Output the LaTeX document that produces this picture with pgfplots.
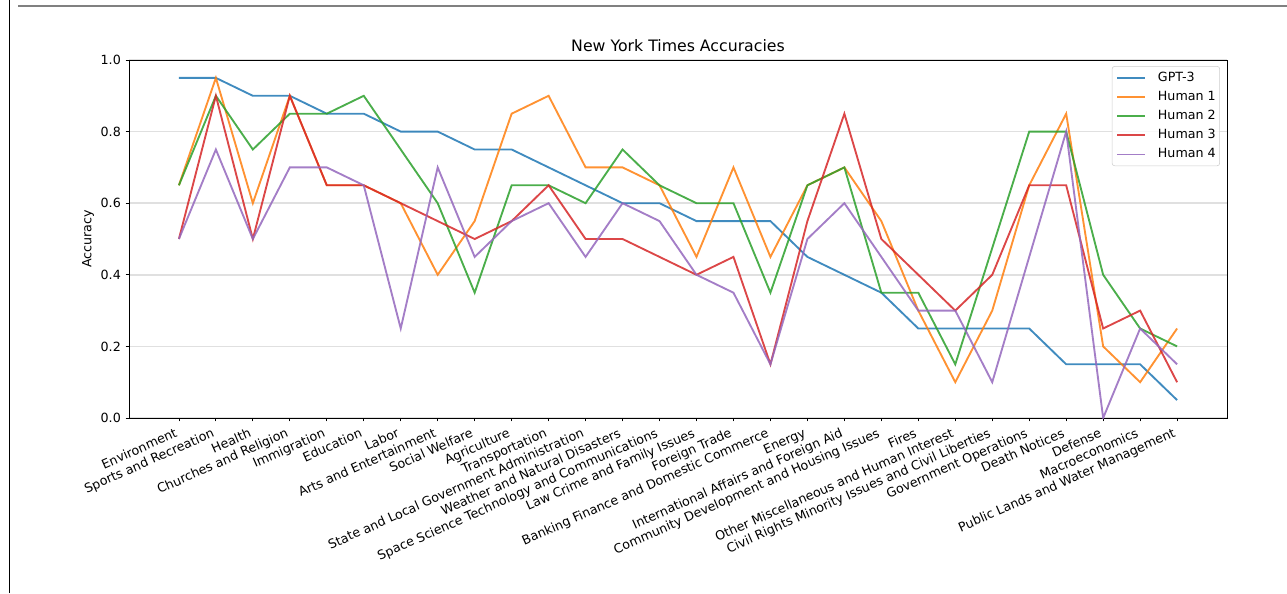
\documentclass[border=0pt]{standalone}
\usepackage{fontspec}
\setmainfont{DejaVu Sans}
\usepackage{pgfplots}
\pgfplotsset{compat=1.18}
\definecolor{cA}{HTML}{1F77B4}
\definecolor{cB}{HTML}{FF7F0E}
\definecolor{cC}{HTML}{2CA02C}
\definecolor{cD}{HTML}{D62728}
\definecolor{cE}{HTML}{9467BD}
\definecolor{pagegray}{HTML}{808080}
\newcommand{\tickfont}{\fontsize{9.5}{11}\selectfont}
\begin{document}
\begin{tikzpicture}
\useasboundingbox (0,0) rectangle (965.25pt,444.75pt);
\draw[black, line width=0.8pt] (7.1pt,0) -- (7.1pt,444.75pt);
\draw[pagegray, line width=1.5pt] (13.5pt,440.25pt) -- (965.25pt,440.25pt);
\begin{axis}[
  at={(96.75pt,131.25pt)}, anchor=south west,
  scale only axis, width=823.5pt, height=268.5pt,
  xmin=-1.35, xmax=28.35, ymin=0, ymax=1,
  xtick={0,...,27},
  xticklabels={Environment,Sports and Recreation,Health,Churches and Religion,Immigration,Education,Labor,Arts and Entertainment,Social Welfare,Agriculture,Transportation,State and Local Government Administration,Weather and Natural Disasters,Space Science Technology and Communications,Law Crime and Family Issues,Foreign Trade,Banking Finance and Domestic Commerce,Energy,International Affairs and Foreign Aid,Community Development and Housing Issues,Fires,Other Miscellaneous and Human Interest,Civil Rights Minority Issues and Civil Liberties,Government Operations,Death Notices,Defense,Macroeconomics,Public Lands and Water Management},
  xticklabel style={font=\tickfont, xshift=-3pt, yshift=-3pt, rotate=24, anchor=north east, inner sep=1pt},
  ytick={0,0.2,0.4,0.6,0.8,1.0},
  yticklabel style={font=\tickfont, /pgf/number format/fixed, /pgf/number format/precision=1, /pgf/number format/fixed zerofill, /pgf/number format/assume math mode=true},
  tick pos=left, tick align=outside, major tick length=2.6pt,
  tick style={black, line width=0.6pt},
  axis line style={black, line width=0.6pt},
  ymajorgrids, grid style={draw=black!12, line width=1.1pt},
  title={New York Times Accuracies},
  title style={font=\fontsize{11.8}{14}\selectfont, at={(axis description cs:0.5,1)}, anchor=south, yshift=-3pt},
  ylabel={Accuracy},
  ylabel style={font=\tickfont, at={(axis description cs:-0.0373,0.5)}, anchor=center},
  legend cell align=left,
  legend style={at={(axis description cs:0.9936,0.983)}, anchor=north east, font=\tickfont,
    draw=black!20, rounded corners=2pt, fill=white, fill opacity=0.8, text opacity=1,
    nodes={inner sep=0pt, text height=7pt, text depth=2pt},
    row sep=5.4pt, inner xsep=3pt, inner ysep=4pt},
  legend image code/.code={\draw[#1] (0pt,0pt) -- (21pt,0pt); \path (30pt,0pt);},
  every axis plot/.append style={line width=1.4pt, opacity=0.85, line join=miter},
]
\addplot[cA] coordinates {(0,0.95) (1,0.95) (2,0.90) (3,0.90) (4,0.85) (5,0.85) (6,0.80) (7,0.80) (8,0.75) (9,0.75) (10,0.70) (11,0.65) (12,0.60) (13,0.60) (14,0.55) (15,0.55) (16,0.55) (17,0.45) (18,0.40) (19,0.35) (20,0.25) (21,0.25) (22,0.25) (23,0.25) (24,0.15) (25,0.15) (26,0.15) (27,0.05)};
\addlegendentry{GPT-3}
\addplot[cB] coordinates {(0,0.65) (1,0.95) (2,0.60) (3,0.90) (4,0.65) (5,0.65) (6,0.60) (7,0.40) (8,0.55) (9,0.85) (10,0.90) (11,0.70) (12,0.70) (13,0.65) (14,0.45) (15,0.70) (16,0.45) (17,0.65) (18,0.70) (19,0.55) (20,0.30) (21,0.10) (22,0.30) (23,0.65) (24,0.85) (25,0.20) (26,0.10) (27,0.25)};
\addlegendentry{Human 1}
\addplot[cC] coordinates {(0,0.65) (1,0.90) (2,0.75) (3,0.85) (4,0.85) (5,0.90) (6,0.75) (7,0.60) (8,0.35) (9,0.65) (10,0.65) (11,0.60) (12,0.75) (13,0.65) (14,0.60) (15,0.60) (16,0.35) (17,0.65) (18,0.70) (19,0.35) (20,0.35) (21,0.15) (22,0.475) (23,0.80) (24,0.80) (25,0.40) (26,0.25) (27,0.20)};
\addlegendentry{Human 2}
\addplot[cD] coordinates {(0,0.50) (1,0.90) (2,0.50) (3,0.90) (4,0.65) (5,0.65) (6,0.60) (7,0.55) (8,0.50) (9,0.55) (10,0.65) (11,0.50) (12,0.50) (13,0.45) (14,0.40) (15,0.45) (16,0.15) (17,0.55) (18,0.85) (19,0.50) (20,0.40) (21,0.30) (22,0.40) (23,0.65) (24,0.65) (25,0.25) (26,0.30) (27,0.10)};
\addlegendentry{Human 3}
\addplot[cE] coordinates {(0,0.50) (1,0.75) (2,0.50) (3,0.70) (4,0.70) (5,0.65) (6,0.25) (7,0.70) (8,0.45) (9,0.55) (10,0.60) (11,0.45) (12,0.60) (13,0.55) (14,0.40) (15,0.35) (16,0.15) (17,0.50) (18,0.60) (19,0.45) (20,0.30) (21,0.30) (22,0.10) (23,0.45) (24,0.80) (25,0.00) (26,0.25) (27,0.15)};
\addlegendentry{Human 4}
\end{axis}
\end{tikzpicture}
\end{document}
